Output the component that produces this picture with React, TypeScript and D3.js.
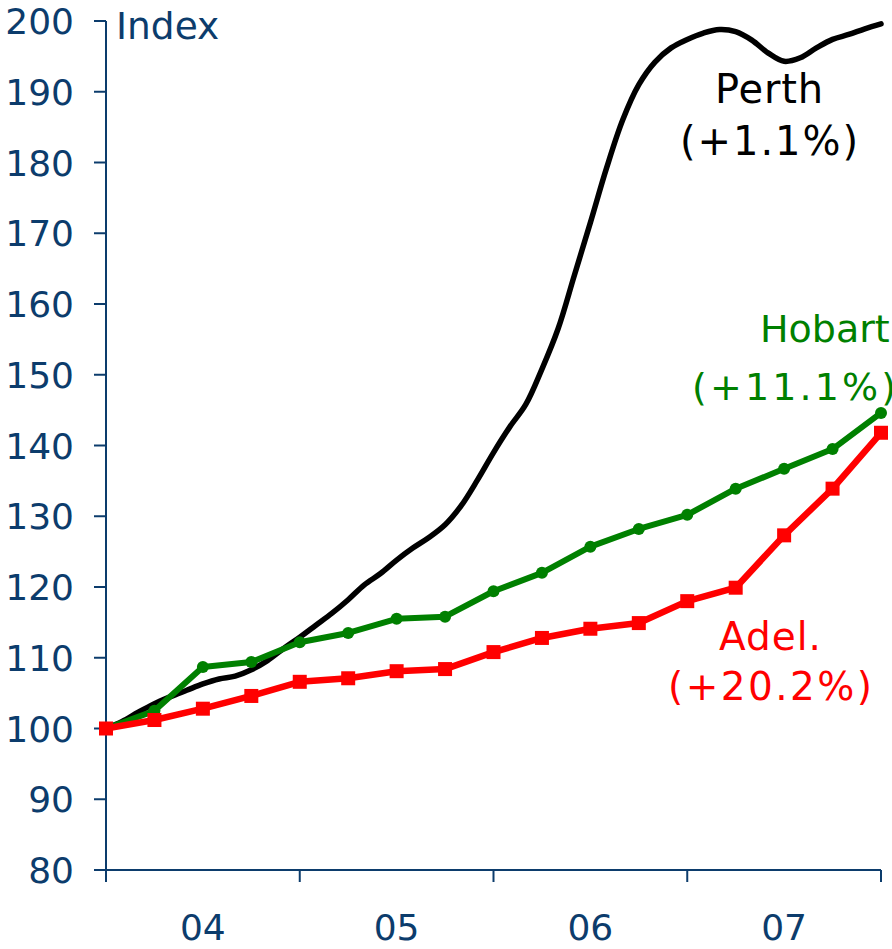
import React from "react";
import * as d3 from "d3";

const yearLabels = ["04", "05", "06", "07"];
const yTicks = [80, 90, 100, 110, 120, 130, 140, 150, 160, 170, 180, 190, 200];

// Quarterly series (17 quarters)
const hobart = [100, 102.5, 108.7, 109.4, 112.2, 113.5, 115.5, 115.8, 119.4, 122.0, 125.7, 128.2, 130.2, 133.9, 136.7, 139.5, 144.6];
const adelaide = [100, 101.2, 102.8, 104.6, 106.6, 107.1, 108.1, 108.4, 110.8, 112.8, 114.1, 114.9, 118.0, 119.9, 127.3, 133.9, 141.8];
// Monthly series (49 months)
const perth = [
  100, 101, 102.3, 103.5, 104.5, 105.4, 106.3, 107, 107.4, 108.3, 109.6, 111.3,
  112.9, 114.6, 116.3, 118.2, 120.3, 121.9, 123.8, 125.5, 127.0, 128.8, 131.5, 135.1,
  139.0, 142.6, 145.8, 150.8, 156.5, 164.0, 171.5, 179.2, 186.0, 191.0, 194.2, 196.2,
  197.4, 198.3, 198.8, 198.5, 197.3, 195.5, 194.3, 194.8, 196.2, 197.4, 198.1, 198.9, 199.6,
];

const labels = [
  { lines: ["Perth", "(+1.1%)"], color: "#000000", x: 769, y: [103, 155], size: 40, len: [108, 178], anchor: "middle" },
  { lines: ["Hobart", "(+11.1%)"], color: "#008000", x: 0, y: [342, 400], size: 38, len: [0, 204], anchor: "start", xs: [760, 692] },
  { lines: ["Adel.", "(+20.2%)"], color: "#ff0000", x: 770, y: [650, 700], size: 39, len: [102, 204], anchor: "middle" },
];

const W = 892;
const H = 949;
const axisColor = "#0c3c6c";
const font = "DejaVu Sans, Verdana, sans-serif";

export default function App() {
  const x = d3.scaleLinear().domain([0, 16]).range([106, 881]);
  const y = d3.scaleLinear().domain([80, 200]).range([870, 21]);

  const qLine = d3
    .line<number>()
    .x((_, i) => x(i))
    .y((d) => y(d));
  const mLine = d3
    .line<number>()
    .x((_, i) => x(i / 3))
    .y((d) => y(d))
    .curve(d3.curveCatmullRom);

  const xTicks = [0, 4, 8, 12, 16];

  return (
    <svg
      width={W}
      height={H}
      style={{ position: "absolute", left: 0, top: 0, background: "#fff" }}
      fontFamily={font}
    >
      <rect x={0} y={0} width={W} height={H} fill="#fff" />
      {/* Y axis */}
      <line x1={x(0)} x2={x(0)} y1={y(200)} y2={y(80)} stroke={axisColor} strokeWidth={2} />
      {yTicks.map((t) => (
        <g key={t}>
          <line x1={x(0) - 12} x2={x(0)} y1={y(t)} y2={y(t)} stroke={axisColor} strokeWidth={2} />
          <text x={74} y={y(t) + 13} textAnchor="end" fontSize={36} fill={axisColor}>
            {t}
          </text>
        </g>
      ))}
      <text x={116} y={39} fontSize={37.5} fill={axisColor}>
        Index
      </text>
      {/* X axis */}
      <line x1={x(0) - 12} x2={x(16)} y1={y(80)} y2={y(80)} stroke={axisColor} strokeWidth={2} />
      {xTicks.map((t) => (
        <line key={t} x1={x(t)} x2={x(t)} y1={y(80)} y2={y(80) + 12} stroke={axisColor} strokeWidth={2} />
      ))}
      {yearLabels.map((l, i) => (
        <text key={l} x={x(i * 4 + 2)} y={940} textAnchor="middle" fontSize={36} fill={axisColor}>
          {l}
        </text>
      ))}

      {/* Series */}
      <path d={mLine(perth) || ""} fill="none" stroke="#000" strokeWidth={5.5} strokeLinejoin="round" strokeLinecap="round" />
      <path d={qLine(hobart) || ""} fill="none" stroke="#008000" strokeWidth={6} strokeLinejoin="round" />
      {hobart.map((d, i) => (
        <circle key={i} cx={x(i)} cy={y(d)} r={6} fill="#008000" />
      ))}
      <path d={qLine(adelaide) || ""} fill="none" stroke="#ff0000" strokeWidth={6.5} strokeLinejoin="round" />
      {adelaide.map((d, i) => (
        <rect key={i} x={x(i) - 7} y={y(d) - 7} width={14} height={14} fill="#ff0000" />
      ))}

      {/* Labels */}
      {labels.map((lab) =>
        lab.lines.map((t, j) => (
          <text
            key={lab.lines[0] + j}
            x={lab.xs ? lab.xs[j] : lab.x}
            y={lab.y[j]}
            textAnchor={lab.anchor as any}
            fontSize={lab.size}
            fill={lab.color}
            {...(lab.len[j] ? { textLength: lab.len[j], lengthAdjust: "spacing" } : {})}
          >
            {t}
          </text>
        ))
      )}
    </svg>
  );
}
